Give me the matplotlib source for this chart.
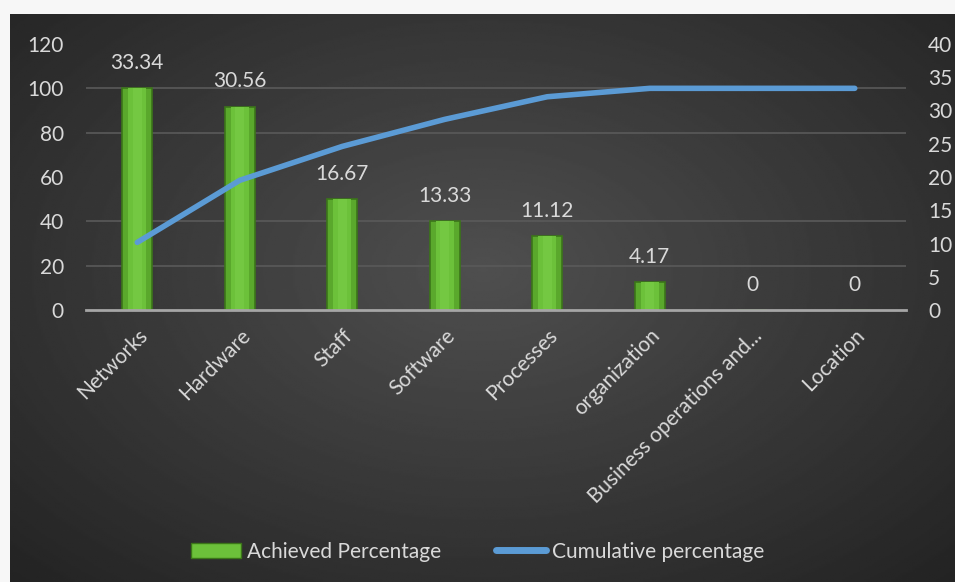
import numpy as np
import matplotlib.pyplot as plt
from matplotlib.patches import Patch
from matplotlib.lines import Line2D
from matplotlib.ticker import FixedLocator

plt.rcParams['font.family'] = ['Lato', 'DejaVu Sans']

categories = ['Networks', 'Hardware', 'Staff', 'Software', 'Processes',
              'organization', 'Business operations and...', 'Location']
achieved = [33.34, 30.56, 16.67, 13.33, 11.12, 4.17, 0, 0]
cumulative = [30.5, 58.5, 73.8, 86.0, 96.2, 100, 100, 100]
left_ticks = [0, 20, 40, 60, 80, 100, 120]
right_ticks = [0, 5, 10, 15, 20, 25, 30, 35, 40]

txt = '#d9d9d9'
fs = 15

fig = plt.figure(figsize=(9.55, 5.82), dpi=100)
fig.patch.set_facecolor('#f7f7f7')

# dark radial background like the excel style
bg = fig.add_axes([10 / 955, 0, 1 - 10 / 955, 1 - 14 / 582], zorder=-10)
yy, xx = np.mgrid[0:1:300j, 0:1:500j]
r = np.sqrt(((xx - 0.5) / 0.75) ** 2 + ((yy - 0.45) / 0.8) ** 2)
r = np.clip(r, 0, 1)
grad = 0.31 - 0.18 * r
bg.imshow(grad, cmap='gray', vmin=0, vmax=1, aspect='auto', extent=[0, 1, 1, 0])
bg.axis('off')

# bars live on the right hand scale
ax = fig.add_axes([86 / 955, 1 - 310 / 582, 820 / 955, 266 / 582])
ax.patch.set_visible(False)
x = np.arange(len(categories))
w = 0.29
ax.bar(x, achieved, width=w, color='#5aa82c', edgecolor='#3b7519', linewidth=1.2, zorder=3)
ax.bar(x, achieved, width=w * 0.62, color='#6cc13a', linewidth=0, zorder=4)
ax.bar(x, achieved, width=w * 0.3, color='#74c842', linewidth=0, zorder=4)
for xi, v in zip(x, achieved):
    ax.annotate(f'{v:g}', (xi, v), xytext=(0, 11), textcoords='offset points',
                ha='center', va='bottom', color=txt, fontsize=fs)

ax.set_xlim(-0.5, len(categories) - 0.5)
ax.set_ylim(0, 40)
ax.set_xticks(x)
ax.set_xticklabels(categories, rotation=45, ha='right', va='top',
                   rotation_mode='anchor', color=txt, fontsize=fs)
ax.tick_params(axis='x', length=0, pad=11)
for s in ['top', 'left', 'right']:
    ax.spines[s].set_visible(False)
ax.spines['bottom'].set_color('#a6a6a6')
ax.spines['bottom'].set_linewidth(2)
ax.spines['bottom'].set_zorder(5)

# cumulative line on the left hand scale, drawn over the bars
ax2 = ax.twinx()
ax2.yaxis.tick_left()
ax2.plot(x, cumulative, color='#5b9bd5', linewidth=4, solid_capstyle='round', zorder=6)
ax2.set_ylim(0, 120)
ax2.set_yticks(left_ticks)
ax2.tick_params(axis='y', length=0, colors=txt, labelsize=fs, pad=16)
for s in ax2.spines.values():
    s.set_visible(False)

ax.yaxis.tick_right()
ax.set_yticks(right_ticks)
ax.yaxis.set_minor_locator(FixedLocator(np.linspace(0, 40, 7)[1:]))
ax.grid(which='minor', axis='y', color='#5a5a5a', linewidth=1.2, zorder=0)
ax.tick_params(axis='y', which='both', length=0, colors=txt, labelsize=fs, pad=16)

handles = [Patch(facecolor='#6cc13a', edgecolor='#3b7519'),
           Line2D([0], [0], color='#5b9bd5', linewidth=5, solid_capstyle='round')]
fig.legend(handles, ['Achieved Percentage', 'Cumulative percentage'], loc='center',
           bbox_to_anchor=(0.5, 0.052), ncol=2, frameon=False, fontsize=fs,
           labelcolor=txt, handlelength=2.4, handletextpad=0.3, columnspacing=2.6)

fig.savefig('out.png', dpi=100, facecolor=fig.get_facecolor())
